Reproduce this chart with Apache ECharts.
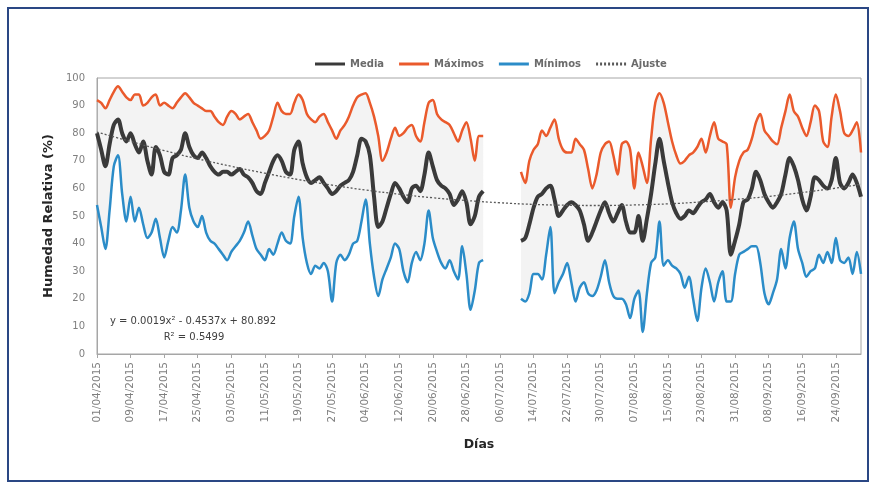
<!DOCTYPE html>
<html><head><meta charset="utf-8">
<script src="https://cdn.jsdelivr.net/npm/echarts@6/dist/echarts.min.js"></script>
<style>html,body{margin:0;padding:0;background:#fff}#c{width:872px;height:486px}</style>
</head><body><div id="c"></div>
<script>
// categories: daily dates 01/04/2015 .. 30/09/2015
const startDate = [2015, 3, 1];
const nDays = 183;
const days = [];
for (let i = 0; i < nDays; i++) {
  const d = new Date(Date.UTC(startDate[0], startDate[1], startDate[2] + i));
  const dd = String(d.getUTCDate()).padStart(2, '0');
  const mm = String(d.getUTCMonth() + 1).padStart(2, '0');
  days.push(dd + '/' + mm + '/' + d.getUTCFullYear());
}
const gap = [null, null, null, null, null, null, null, null];

const maxVals = [92,91,89,92,95,97,95,93,92,94, 94,90,91,93,94,90,91,90,89,91,
  93,94.5,93,91,90,89,88,88,86,84, 83,86,88,87,85,86,87,84,81,78,
  79,81,86,91,88,87,87,91,94,92, 87,85,84,86,87,84,81,78,81,83,
  86,90,93,94,94.5,91,86,79,70,73, 78,82,79,80,82,83,79,77,84,91,
  92,87,85,84,83,80,77,81,84,78, 70,79,79,
  ...gap,
  66,62,70,74,76,81,79,82,85,
  78,74,73,73,78,76,74,67,60,65,
  73,76,77,72,65,76,77,74,60,73,
  68,62,78,91,94.5,91,84,77,72,69,
  70,72,73,75,78,73,79,84,78,77,
  76,53,64,70,73,74,78,84,87,81,
  79,77,76,82,88,94,88,86,82,79,
  84,90,88,77,75,86,94,88,80,79,
  81,84,73];

const meanVals = [80,74,68,76,83,85,80,77,80,76, 73,77,70,65,75,72,66,65,71,72,
  74,80,75,72,71,73,71,68,66,65, 66,66,65,66,67,65,64,62,59,58,
  62,66,70,72,70,66,65,74,77,69, 64,62,63,64,62,60,58,59,61,62,
  63,66,72,78,77,72,57,46,48,53, 58,62,60,57,55,60,61,59,65,73,
  68,63,61,60,58,54,56,59,55,47, 50,57,59,
  ...gap,
  41,42,47,53,57,58,60,61,56,
  50,52,54,55,54,52,47,41,44,48,
  52,55,51,48,51,54,48,44,44,50,
  41,49,58,69,78,70,62,55,51,49,
  50,52,51,53,55,56,58,55,53,55,
  52,36,41,47,55,56,60,66,63,58,
  55,53,55,58,65,71,68,63,56,52,
  57,64,63,61,60,63,71,62,60,62,
  65,62,57];

const minVals = [54,46,38,52,68,72,58,48,57,48, 53,47,42,44,49,42,35,41,46,44,
  52,65,53,48,46,50,44,41,40,38, 36,34,37,39,41,44,48,43,38,36,
  34,38,36,40,44,41,40,50,57,42, 33,29,32,31,33,30,19,33,36,34,
  36,40,41,48,56,40,28,21,27,31, 35,40,38,30,26,33,37,34,40,52,
  42,37,33,31,34,30,27,39,29,16, 23,33,34,
  ...gap,
  20,19,22,29,29,27,36,46,22,
  26,29,33,26,19,24,26,22,21,23,
  28,34,26,21,20,20,18,13,20,23,
  8,22,33,35,48,32,34,32,31,29,
  24,28,20,12,24,31,26,19,26,30,
  19,19,29,36,37,38,39,39,33,22,
  18,22,27,38,31,42,48,38,33,28,
  30,31,36,33,37,33,42,34,33,35,
  29,37,29];

// Ajuste (polynomial trend) read at every 8th day and the last day
const trendDays = [0,8,16,24,32,40,48,56,64,72,80,88,96,104,112,120,128,136,144,152,160,168,176,182];
const trendVals = [80.4,77.0,73.7,70.7,68.0,65.5,63.2,61.2,59.4,57.9,56.6,55.6,54.8,54.2,53.9,53.8,54.0,54.4,55.1,56.0,57.1,58.5,60.1,61.5];

const legendNames = ['Media', 'Máximos', 'Mínimos', 'Ajuste'];
const eqLine1 = 'y = 0.0019x² - 0.4537x + 80.892';
const eqLine2 = 'R² = 0.5499';

const trendSeries = days.map(() => null);
trendDays.forEach((d, i) => { trendSeries[d] = trendVals[i]; });
const bandDiff = maxVals.map((v, i) => (v == null || minVals[i] == null) ? null : v - minVals[i]);

const solidIcon = 'path://M0,0H30V3H0Z';
const dotIcon = 'path://M0,0H2V3H0Z M4,0H6V3H4Z M8,0H10V3H8Z M12,0H14V3H12Z M16,0H18V3H16Z M20,0H22V3H20Z M24,0H26V3H24Z M28,0H30V3H28Z';

const chart = echarts.init(document.getElementById('c'), null, {renderer: 'canvas'});
chart.setOption({
  animation: false,
  backgroundColor: '#ffffff',
  legend: {
    data: [
      {name: legendNames[0], icon: solidIcon},
      {name: legendNames[1], icon: solidIcon},
      {name: legendNames[2], icon: solidIcon},
      {name: legendNames[3], icon: dotIcon}
    ],
    top: 54, left: 310,
    itemWidth: 30, itemHeight: 3, itemGap: 15,
    textStyle: {color: '#6b6b6b', fontSize: 10, fontWeight: 'bold', fontFamily: 'DejaVu Sans'}
  },
  grid: {left: 97, right: 11, top: 78, bottom: 132, show: true, borderColor: '#a6a6a6', borderWidth: 1},
  xAxis: {
    type: 'category', data: days, boundaryGap: false,
    axisLine: {lineStyle: {color: '#a6a6a6'}},
    axisTick: {interval: 7, length: 4, lineStyle: {color: '#a6a6a6'}},
    axisLabel: {interval: 7, rotate: 90, fontSize: 10.5, fontFamily: 'DejaVu Sans', color: '#7f7f7f', margin: 8},
    name: 'Días', nameLocation: 'middle', nameGap: 84,
    nameTextStyle: {fontWeight: 'bold', fontSize: 12.5, color: '#262626', fontFamily: 'DejaVu Sans'}
  },
  yAxis: {
    type: 'value', min: 0, max: 100, interval: 10,
    splitLine: {show: false}, axisTick: {show: false},
    axisLine: {show: true, lineStyle: {color: '#a6a6a6'}},
    axisLabel: {color: '#7f7f7f', fontSize: 10, fontFamily: 'DejaVu Sans', margin: 12},
    name: 'Humedad Relativa (%)', nameLocation: 'middle', nameGap: 42, nameRotate: 90,
    nameTextStyle: {fontWeight: 'bold', fontSize: 13, color: '#262626', fontFamily: 'DejaVu Sans'}
  },
  series: [
    {name: 'bandLow', type: 'line', data: minVals, stack: 'band', symbol: 'none', smooth: 0.3,
     lineStyle: {opacity: 0}, silent: true, z: 1},
    {name: 'bandHigh', type: 'line', data: bandDiff, stack: 'band', symbol: 'none', smooth: 0.3,
     lineStyle: {opacity: 0}, areaStyle: {color: 'rgba(205,205,205,0.35)'}, silent: true, z: 1},
    {name: 'Mínimos', type: 'line', data: minVals, symbol: 'none', smooth: 0.3,
     lineStyle: {color: '#2b8cc8', width: 2.5}, itemStyle: {color: '#2b8cc8'}, z: 3},
    {name: 'Máximos', type: 'line', data: maxVals, symbol: 'none', smooth: 0.3,
     lineStyle: {color: '#ea5a2c', width: 2.5}, itemStyle: {color: '#ea5a2c'}, z: 3},
    {name: 'Media', type: 'line', data: meanVals, symbol: 'none', smooth: 0.3,
     lineStyle: {color: '#3a3a3a', width: 4}, itemStyle: {color: '#3a3a3a'}, z: 4},
    {name: 'Ajuste', type: 'line', data: trendSeries, connectNulls: true, symbol: 'none', smooth: true,
     lineStyle: {color: '#595959', width: 1.3, type: [2, 2]}, itemStyle: {color: '#595959'}, z: 5}
  ],
  graphic: [
    {type: 'rect', shape: {x: 8, y: 8, width: 860, height: 473}, style: {fill: 'none', stroke: '#2a4784', lineWidth: 2}, silent: true},
    {type: 'text', x: 193, y: 321, style: {text: eqLine1, textAlign: 'center', textVerticalAlign: 'middle', fill: '#404040', font: '10px "DejaVu Sans"'}},
    {type: 'text', x: 194, y: 337, style: {text: eqLine2, textAlign: 'center', textVerticalAlign: 'middle', fill: '#404040', font: '10px "DejaVu Sans"'}}
  ]
});
</script></body></html>
